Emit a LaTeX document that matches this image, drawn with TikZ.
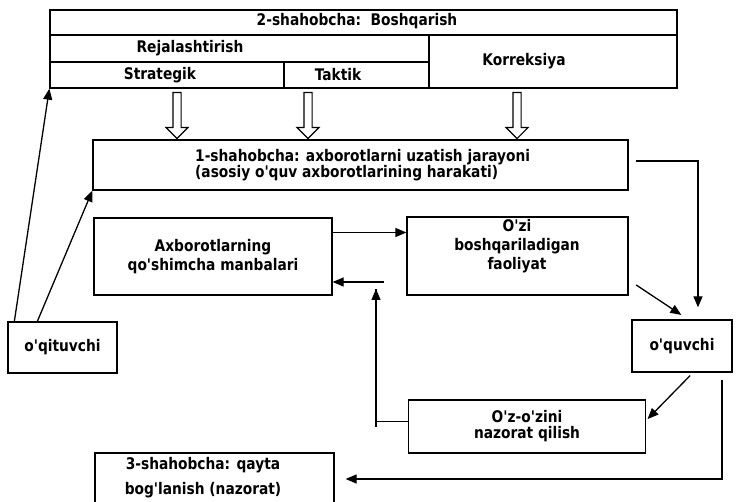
\documentclass[tikz,border=0pt]{standalone}
\usepackage{fontspec}
\setmainfont{DejaVu Sans}[Ligatures=TeXOff, FakeStretch=0.86]
\usetikzlibrary{arrows.meta,shapes.arrows}

\newcommand{\boxfont}{\bfseries\fontsize{16}{19}\selectfont}

\begin{document}
\begin{tikzpicture}[x=1pt, y=-1pt,
    box/.style={draw, line width=1.3pt, inner sep=0pt, align=center, font=\boxfont},
    txt/.style={inner sep=0pt, align=center, font=\boxfont},
    conn/.style={line width=1.3pt, -{Triangle[length=11pt,width=9pt]}},
    hollow/.style={single arrow, draw, fill=white, line width=1.1pt, inner sep=3.5pt,
        single arrow head extend=7pt, single arrow head indent=0pt,
        minimum height=46pt, shape border rotate=270}]
    \useasboundingbox (0,0) rectangle (736,502);

    % Top block (control)
    \node[box, minimum width=627pt, minimum height=25pt] (ctrl) at (363.5,22.5) {};
    \node[box, minimum width=379pt, minimum height=27pt] (plan) at (239.5,48.5) {};
    \node[box, minimum width=248pt, minimum height=53pt] (corr) at (553,61.5) {};
    \node[box, minimum width=234pt, minimum height=26pt] (strat) at (167,75) {};
    \node[box, minimum width=145pt, minimum height=26pt] (takt) at (356.5,75) {};
    \node[txt] at (357,21) {2-shahobcha:\ \ Boshqarish};
    \node[txt] at (190,48) {Rejalashtirish};
    \node[txt] at (160,75) {Strategik};
    \node[txt] at (338,75) {Taktik};
    \node[txt] at (524,61) {Korreksiya};

    % Hollow arrows down to the transfer box
    \node[hollow] (h1) at (177,113.5) {};
    \node[hollow] (h2) at (308,113.5) {};
    \node[hollow] (h3) at (517,113.5) {};

    % Main boxes
    \node[box, minimum width=535pt, minimum height=50pt] (trans) at (360.5,165) {};
    \node[txt, anchor=west, align=left, font=\bfseries\fontsize{16}{15.5}\selectfont] at (195,165) {1-shahobcha: axborotlarni uzatish jarayoni\\(asosiy o'quv axborotlarining harakati)};
    \node[box, minimum width=238pt, minimum height=77pt] (src) at (213,256.5) {Axborotlarning\\qo'shimcha manbalari};
    \node[box, minimum width=221pt, minimum height=78pt] (selfm) at (517.5,256) {};
    \node[txt] at (517,246) {O'zi\\boshqariladigan\\faoliyat};
    \node[box, minimum width=100pt, minimum height=52pt] (pupil) at (682,346) {o'quvchi};
    \node[box, minimum width=109pt, minimum height=51pt] (teacher) at (62.5,347.5) {o'qituvchi};
    \node[box, minimum width=237pt, minimum height=53pt, font=\bfseries\fontsize{16}{16}\selectfont] (selfc) at (527,426.5) {O'z-o'zini\\nazorat qilish};
    \node[box, minimum width=239pt, minimum height=70pt] (feedb) at (214.5,488) {};
    \node[txt, font=\bfseries\fontsize{16}{25}\selectfont] at (203,478) {3-shahobcha: qayta\\bog'lanish (nazorat)};

    % Helper points
    \coordinate (fb) at (376,289);
    \coordinate (fbr) at (384,282);
    \coordinate (rt) at (698,161);
    \coordinate (bt) at (722,479);

    % Connections
    \draw[conn] ([xshift=7pt]teacher.north west) -- (strat.south west);
    \draw[conn] ([xshift=30pt]teacher.north west) -- (trans.south west);
    \draw[conn, shorten <=7pt, shorten >=12pt] ([yshift=4pt]trans.east) -| (pupil.north -| rt);
    \draw[conn] ([yshift=24pt]src.east) -- ([yshift=24pt]src.east -| selfm.west);
    \draw[conn, shorten <=9pt, shorten >=8pt] ([yshift=-24pt]selfm.east) -- ([xshift=6pt]pupil.north);
    \draw[conn, shorten <=4pt, shorten >=2pt] ([xshift=11pt]pupil.south) -- ([yshift=6pt]selfc.east);
    \draw[line width=1.3pt] ([yshift=5pt]selfc.west) -| (fb);
    \draw[conn] (selfc.west -| fb) -- (fb);
    \draw[conn] (fbr) -- (fbr -| src.east);
    \draw[conn, shorten <=7pt, shorten >=11pt] (pupil.south -| bt) |- (feedb.east |- bt);
\end{tikzpicture}
\end{document}
